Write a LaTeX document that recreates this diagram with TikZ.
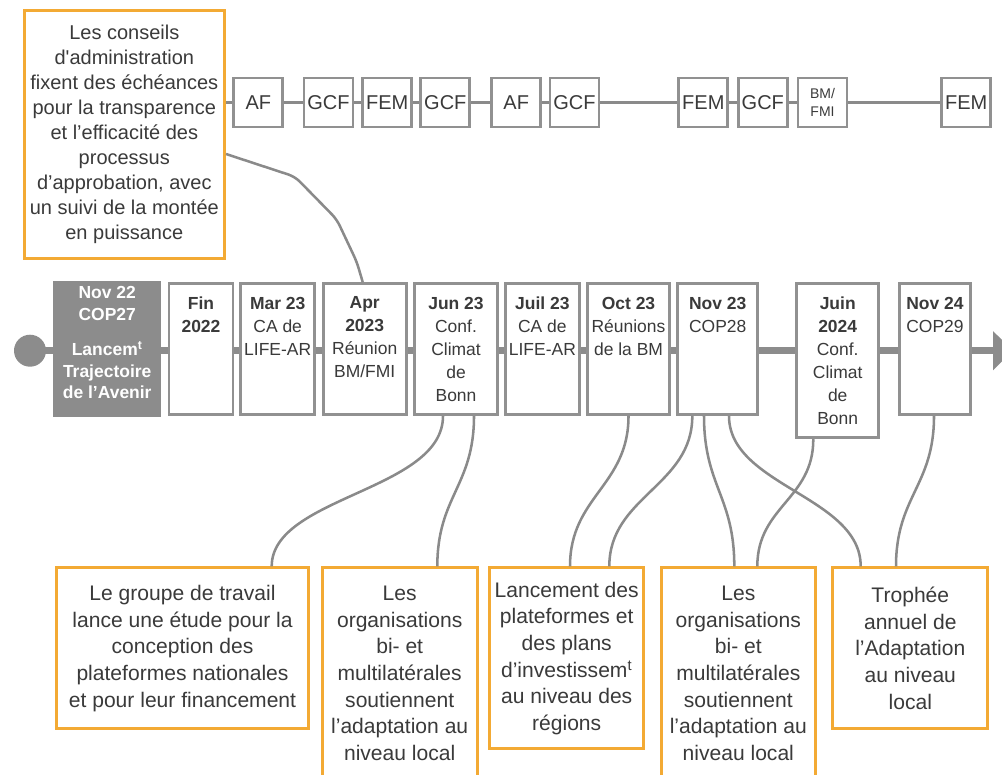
\documentclass[tikz,border=0pt]{standalone}
\usepackage{fontspec}
\setmainfont{Liberation Sans}
\usepackage{tikz}
\usetikzlibrary{arrows.meta, calc}
\definecolor{framegray}{RGB}{145,145,145}
\definecolor{fillgray}{RGB}{140,140,140}
\definecolor{wiregray}{RGB}{138,138,138}
\definecolor{inkgray}{RGB}{58,58,58}
\definecolor{noteorange}{RGB}{243,170,52}
\newcommand{\notefont}{\fontsize{15pt}{18.75pt}\selectfont}
\newcommand{\lowfont}{\fontsize{15.8pt}{20pt}\selectfont}
\newcommand{\datefont}{\fontsize{13.1pt}{17.25pt}\selectfont}
\newcommand{\fundfont}{\fontsize{15pt}{18pt}\selectfont}
\newcommand{\smallfundfont}{\fontsize{10.5pt}{13.6pt}\selectfont}
\tikzset{
  pxbox/.style 2 args={minimum width=#1*0.75pt, minimum height=#2*0.75pt, inner sep=0pt},
  fundbox/.style={draw=framegray, line width=2pt, fill=white, text=inkgray, font=\fundfont, pxbox={49}{49}},
  datebox/.style={draw=framegray, line width=2.2pt, fill=white},
  datetext/.style={anchor=north, align=center, inner sep=0pt, text=inkgray, font=\datefont, yshift=-11pt},
  notebox/.style={draw=noteorange, line width=2.2pt, fill=white, align=center, text=inkgray},
  wire/.style={draw=wiregray, line width=1.9pt},
  spine/.style={draw=fillgray, line width=5.25pt}
}

\begin{document}
\begin{tikzpicture}[x=0.75pt, y=-0.75pt]
  \useasboundingbox (0,0) rectangle (1002,774);
  \clip (0,0) rectangle (1002,774);

  % funding boards, top row
  \node[notebox, font=\notefont, pxbox={200.5}{248}] (boards) at (124.3,134.7)
    {Les conseils\\d\textquotesingle administration\\fixent des échéances\\pour la transparence\\et l’efficacité des\\processus\\d’approbation, avec\\un suivi de la montée\\en puissance};
  \foreach \nm/\cx/\lbl in {af1/258.3/AF, gcf1/328.5/GCF, fem1/387.2/FEM, gcf2/445.3/GCF,
      af2/516.2/AF, gcf3/574.5/GCF, fem2/703.3/FEM, gcf4/762.8/GCF, fem3/966.2/FEM}
    \node[fundbox] (\nm) at (\cx,102.5) {\lbl};
  \node[fundbox, font=\smallfundfont, align=center] (bmfmi) at (822.5,102.5) {BM/\\FMI};
  \draw[wire, line width=2pt] (boards.east |- af1.west) -- (af1.west);
  \foreach \a/\b in {af1/gcf1, gcf1/fem1, fem1/gcf2, gcf2/af2, af2/gcf3, gcf3/fem2,
      fem2/gcf4, gcf4/bmfmi, bmfmi/fem3}
    \draw[wire, line width=2pt] (\a) -- (\b);

  % timeline
  \node[circle, fill=fillgray, minimum size=24pt, inner sep=0pt] (start) at (30,350.7) {};
  \coordinate (tipend) at (1013,350.7);
  \draw[spine, -{Triangle[width=28.5pt, length=15pt]}] (start.center) -- (tipend);

  \node[fill=fillgray, pxbox={107.7}{136}] (nov22) at (107.2,349) {};
  \node[anchor=north, align=center, inner sep=0pt, text=white,
        font=\bfseries\fontsize{13.1pt}{16.3pt}\selectfont, yshift=-4pt] (nov22-t) at (nov22.north)
    {Nov 22\\COP27\\[10pt]Lancem\textsuperscript{t}\\Trajectoire\\de l’Avenir};

  \foreach \nm/\cx/\w in {fin22/201/64, mar23/277.7/74, apr23/364.7/83, jun23/456/83,
      jul23/542.4/73.5, oct23/628.5/81.5, nov23/717.7/79.5, nov24/935/71.5}
    \node[datebox, pxbox={\w}{131}] (\nm) at (\cx,349) {};
  \node[datebox, pxbox={82}{154.5}] (jun24) at (837.7,360.5) {};

  \node[datetext] (fin22-t) at (fin22.north) {\textbf{Fin}\\\textbf{2022}};
  \node[datetext] (mar23-t) at (mar23.north) {\textbf{Mar 23}\\CA de\\LIFE-AR};
  \node[datetext] (apr23-t) at (apr23.north) {\textbf{Apr}\\\textbf{2023}\\Réunion\\BM/FMI};
  \node[datetext] (jun23-t) at (jun23.north) {\textbf{Jun 23}\\Conf.\\Climat\\de\\Bonn};
  \node[datetext] (jul23-t) at (jul23.north) {\textbf{Juil 23}\\CA de\\LIFE-AR};
  \node[datetext] (oct23-t) at (oct23.north) {\textbf{Oct 23}\\Réunions\\de la BM};
  \node[datetext] (nov23-t) at (nov23.north) {\textbf{Nov 23}\\COP28};
  \node[datetext] (jun24-t) at (jun24.north) {\textbf{Juin}\\\textbf{2024}\\Conf.\\Climat\\de\\Bonn};
  \node[datetext] (nov24-t) at (nov24.north) {\textbf{Nov 24}\\COP29};

  \draw[wire, rounded corners=5pt] ($(boards.east)+(0,19.3)$) -- (295,176.7) -- (336.7,219.3)
    -- (356.7,261.7) -- ($(apr23.north)+(-2,0)$);

  % outcomes, bottom row
  \node[notebox, font=\lowfont, pxbox={252.5}{161}] (study) at (182.5,648.3)
    {Le groupe de travail\\lance une étude pour la\\conception des\\plateformes nationales\\et pour leur financement};
  \node[notebox, font=\lowfont, pxbox={155}{211}] (support1) at (399.7,673.3)
    {Les\\organisations\\bi- et\\multilatérales\\soutiennent\\l’adaptation au\\niveau local};
  \node[notebox, font=\lowfont, pxbox={154}{181}] (launch) at (566.7,658.3)
    {Lancement des\\plateformes et\\des plans\\d’investissem\textsuperscript{t}\\au niveau des\\régions};
  \node[notebox, font=\lowfont, pxbox={154}{211}] (support2) at (738.3,673.3)
    {Les\\organisations\\bi- et\\multilatérales\\soutiennent\\l’adaptation au\\niveau local};
  \node[notebox, font=\lowfont, pxbox={155}{161}] (trophy) at (910.3,648.3)
    {Trophée\\annuel de\\l’Adaptation\\au niveau\\local};

  \draw[wire] ($(jun23.south)+(-13,0)$) .. controls +(0,75) and +(0,-70) .. ($(study.north)+(89.2,0)$);
  \draw[wire] ($(jun23.south)+(18,0)$) .. controls +(0,70) and +(0,-70) .. ($(support1.north)+(37.6,0)$);
  \draw[wire] (oct23.south) .. controls +(0,70) and +(0,-70) .. ($(launch.north)+(3.3,0)$);
  \draw[wire] ($(nov23.south)+(-25.4,0)$) .. controls +(0,70) and +(0,-70) .. ($(launch.north)+(42.6,0)$);
  \draw[wire] ($(nov23.south)+(-13.7,0)$) .. controls +(0,70) and +(0,-70) .. ($(support2.north)+(-4,0)$);
  \draw[wire] ($(nov23.south)+(11.3,0)$) .. controls +(0,70) and +(0,-70) .. ($(trophy.north)+(-49.6,0)$);
  \draw[wire] ($(jun24.south)+(-24.4,0)$) .. controls +(0,60) and +(0,-60) .. ($(support2.north)+(19,0)$);
  \draw[wire] ($(nov24.south)+(-1,0)$) .. controls +(0,70) and +(0,-70) .. ($(trophy.north)+(-14.3,0)$);
\end{tikzpicture}
\end{document}
